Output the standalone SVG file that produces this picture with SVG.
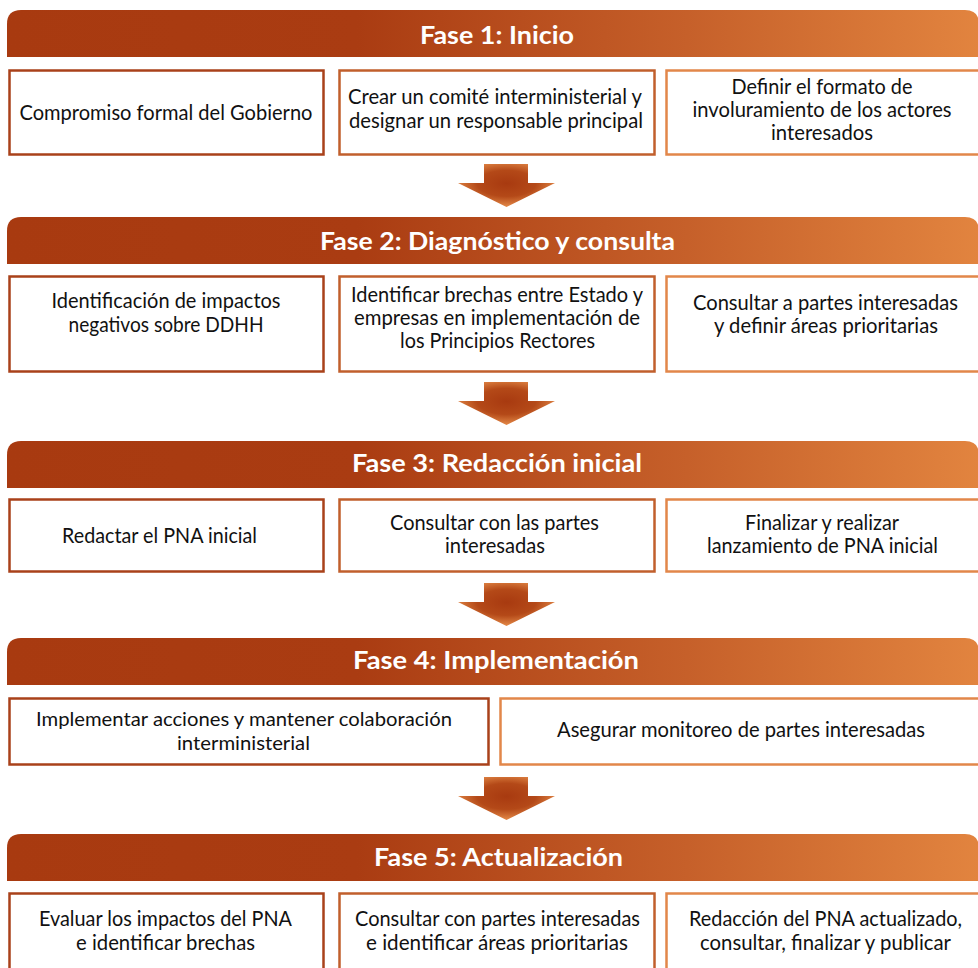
<svg xmlns="http://www.w3.org/2000/svg" width="978" height="968" viewBox="0 0 978 968">
<defs>
<linearGradient id="hdr" gradientUnits="userSpaceOnUse" x1="7" y1="0" x2="979" y2="0">
<stop offset="0" stop-color="#A83A10"/>
<stop offset="0.36" stop-color="#AA3C12"/>
<stop offset="0.7" stop-color="#C6602A"/>
<stop offset="1" stop-color="#E2843F"/>
</linearGradient>
<radialGradient id="arr" cx="0.5" cy="0.45" r="0.55">
<stop offset="0" stop-color="#A83A10"/>
<stop offset="0.55" stop-color="#B44918"/>
<stop offset="1" stop-color="#E48A48"/>
</radialGradient>
</defs>
<style>
.hd{fill:url(#hdr)}
.ht{font-family:Lato,"Open Sans","Liberation Sans",sans-serif;font-weight:bold;font-size:25px;fill:#FFFFFF;text-anchor:middle}
.bx{fill:#FFFFFF;stroke-width:2.5}
.c1{stroke:#A9411A}
.c2{stroke:#C15F2C}
.c3{stroke:#E2874A}
.tx{font-family:Lato,"Open Sans","Liberation Sans",sans-serif;font-size:21px;fill:#111111;text-anchor:middle}
.sm{font-size:20px}
.ar{fill:url(#arr)}
</style>
<rect width="978" height="968" fill="#FFFFFF"/>

<g id="phase1">
<path class="hd" d="M7,57 V24 Q7,10 21,10 H965 Q979,10 979,24 V57 Z"/>
<text class="ht" x="497" y="43.5" textLength="154" lengthAdjust="spacingAndGlyphs">Fase 1: Inicio</text>
</g>
<g id="p1b1"><rect class="bx c1" x="9.5" y="70.5" width="314" height="84"/>
<text class="tx" x="166" y="120" textLength="293" lengthAdjust="spacingAndGlyphs">Compromiso formal del Gobierno</text></g>
<g id="p1b2"><rect class="bx c2" x="339.5" y="70.5" width="315" height="84"/>
<text class="tx" x="495" y="104" textLength="294" lengthAdjust="spacingAndGlyphs">Crear un comité interministerial y</text>
<text class="tx" x="496" y="128" textLength="294" lengthAdjust="spacingAndGlyphs">designar un responsable principal</text></g>
<g id="p1b3"><rect class="bx c3" x="666.5" y="70.5" width="313" height="84"/>
<text class="tx" x="822" y="94" textLength="181" lengthAdjust="spacingAndGlyphs">Definir el formato de</text>
<text class="tx" x="822" y="117" textLength="259" lengthAdjust="spacingAndGlyphs">involuramiento de los actores</text>
<text class="tx" x="822" y="140" textLength="102" lengthAdjust="spacingAndGlyphs">interesados</text></g>

<g id="phase2">
<path class="hd" d="M7,264 V231 Q7,217 21,217 H965 Q979,217 979,231 V264 Z"/>
<text class="ht" x="497.5" y="250" textLength="355" lengthAdjust="spacingAndGlyphs">Fase 2: Diagnóstico y consulta</text>
</g>
<g id="p2b1"><rect class="bx c1" x="9.5" y="276.5" width="314" height="95"/>
<text class="tx" x="166" y="308" textLength="229" lengthAdjust="spacingAndGlyphs">Identificación de impactos</text>
<text class="tx" x="166" y="332" textLength="195" lengthAdjust="spacingAndGlyphs">negativos sobre DDHH</text></g>
<g id="p2b2"><rect class="bx c2" x="339.5" y="276.5" width="315" height="95"/>
<text class="tx" x="497" y="302" textLength="292" lengthAdjust="spacingAndGlyphs">Identificar brechas entre Estado y</text>
<text class="tx" x="497" y="325" textLength="286" lengthAdjust="spacingAndGlyphs">empresas en implementación de</text>
<text class="tx" x="497.5" y="348" textLength="195" lengthAdjust="spacingAndGlyphs">los Principios Rectores</text></g>
<g id="p2b3"><rect class="bx c3" x="666.5" y="276.5" width="313" height="95"/>
<text class="tx" x="825.5" y="310" textLength="265" lengthAdjust="spacingAndGlyphs">Consultar a partes interesadas</text>
<text class="tx" x="826" y="333" textLength="224" lengthAdjust="spacingAndGlyphs">y definir áreas prioritarias</text></g>

<g id="phase3">
<path class="hd" d="M7,488 V455 Q7,441 21,441 H965 Q979,441 979,455 V488 Z"/>
<text class="ht" x="497" y="472" textLength="290" lengthAdjust="spacingAndGlyphs">Fase 3: Redacción inicial</text>
</g>
<g id="p3b1"><rect class="bx c1" x="9.5" y="499.5" width="314" height="72"/>
<text class="tx" x="159.5" y="543" textLength="195" lengthAdjust="spacingAndGlyphs">Redactar el PNA inicial</text></g>
<g id="p3b2"><rect class="bx c2" x="339.5" y="499.5" width="315" height="72"/>
<text class="tx" x="494.5" y="530" textLength="209" lengthAdjust="spacingAndGlyphs">Consultar con las partes</text>
<text class="tx" x="495" y="553" textLength="100" lengthAdjust="spacingAndGlyphs">interesadas</text></g>
<g id="p3b3"><rect class="bx c3" x="666.5" y="499.5" width="313" height="72"/>
<text class="tx" x="822" y="530" textLength="154" lengthAdjust="spacingAndGlyphs">Finalizar y realizar</text>
<text class="tx" x="822.5" y="553" textLength="231" lengthAdjust="spacingAndGlyphs">lanzamiento de PNA inicial</text></g>

<g id="phase4">
<path class="hd" d="M7,685 V652 Q7,638 21,638 H965 Q979,638 979,652 V685 Z"/>
<text class="ht" x="496" y="669" textLength="286" lengthAdjust="spacingAndGlyphs">Fase 4: Implementación</text>
</g>
<g id="p4b1"><rect class="bx c1" x="9.5" y="698.5" width="479" height="66"/>
<text class="tx sm" x="244" y="726" textLength="416" lengthAdjust="spacingAndGlyphs">Implementar acciones y mantener colaboración</text>
<text class="tx sm" x="243.5" y="750" textLength="133" lengthAdjust="spacingAndGlyphs">interministerial</text></g>
<g id="p4b2"><rect class="bx c3" x="500.5" y="698.5" width="479" height="66"/>
<text class="tx" x="741" y="737" textLength="368" lengthAdjust="spacingAndGlyphs">Asegurar monitoreo de partes interesadas</text></g>

<g id="phase5">
<path class="hd" d="M7,881 V848 Q7,834 21,834 H965 Q979,834 979,848 V881 Z"/>
<text class="ht" x="498.5" y="866" textLength="249" lengthAdjust="spacingAndGlyphs">Fase 5: Actualización</text>
</g>
<g id="p5b1"><rect class="bx c1" x="9.5" y="893.5" width="314" height="90"/>
<text class="tx" x="165.5" y="926" textLength="253" lengthAdjust="spacingAndGlyphs">Evaluar los impactos del PNA</text>
<text class="tx" x="165.5" y="950" textLength="179" lengthAdjust="spacingAndGlyphs">e identificar brechas</text></g>
<g id="p5b2"><rect class="bx c2" x="339.5" y="893.5" width="315" height="90"/>
<text class="tx" x="497.5" y="926" textLength="285" lengthAdjust="spacingAndGlyphs">Consultar con partes interesadas</text>
<text class="tx" x="497" y="950" textLength="262" lengthAdjust="spacingAndGlyphs">e identificar áreas prioritarias</text></g>
<g id="p5b3"><rect class="bx c3" x="666.5" y="893.5" width="313" height="90"/>
<text class="tx" x="825.5" y="926" textLength="273" lengthAdjust="spacingAndGlyphs">Redacción del PNA actualizado,</text>
<text class="tx" x="825.5" y="950" textLength="251" lengthAdjust="spacingAndGlyphs">consultar, finalizar y publicar</text></g>

<g id="connectors">
<path class="ar" d="M484,164 H528 V183 H555 L506.5,207 L458,183 H484 Z"/>
<path class="ar" d="M484,382 H528 V401 H555 L506.5,425 L458,401 H484 Z"/>
<path class="ar" d="M484,583 H528 V602 H555 L506.5,626 L458,602 H484 Z"/>
<path class="ar" d="M484,777 H528 V796 H555 L506.5,820 L458,796 H484 Z"/>
</g>
</svg>
